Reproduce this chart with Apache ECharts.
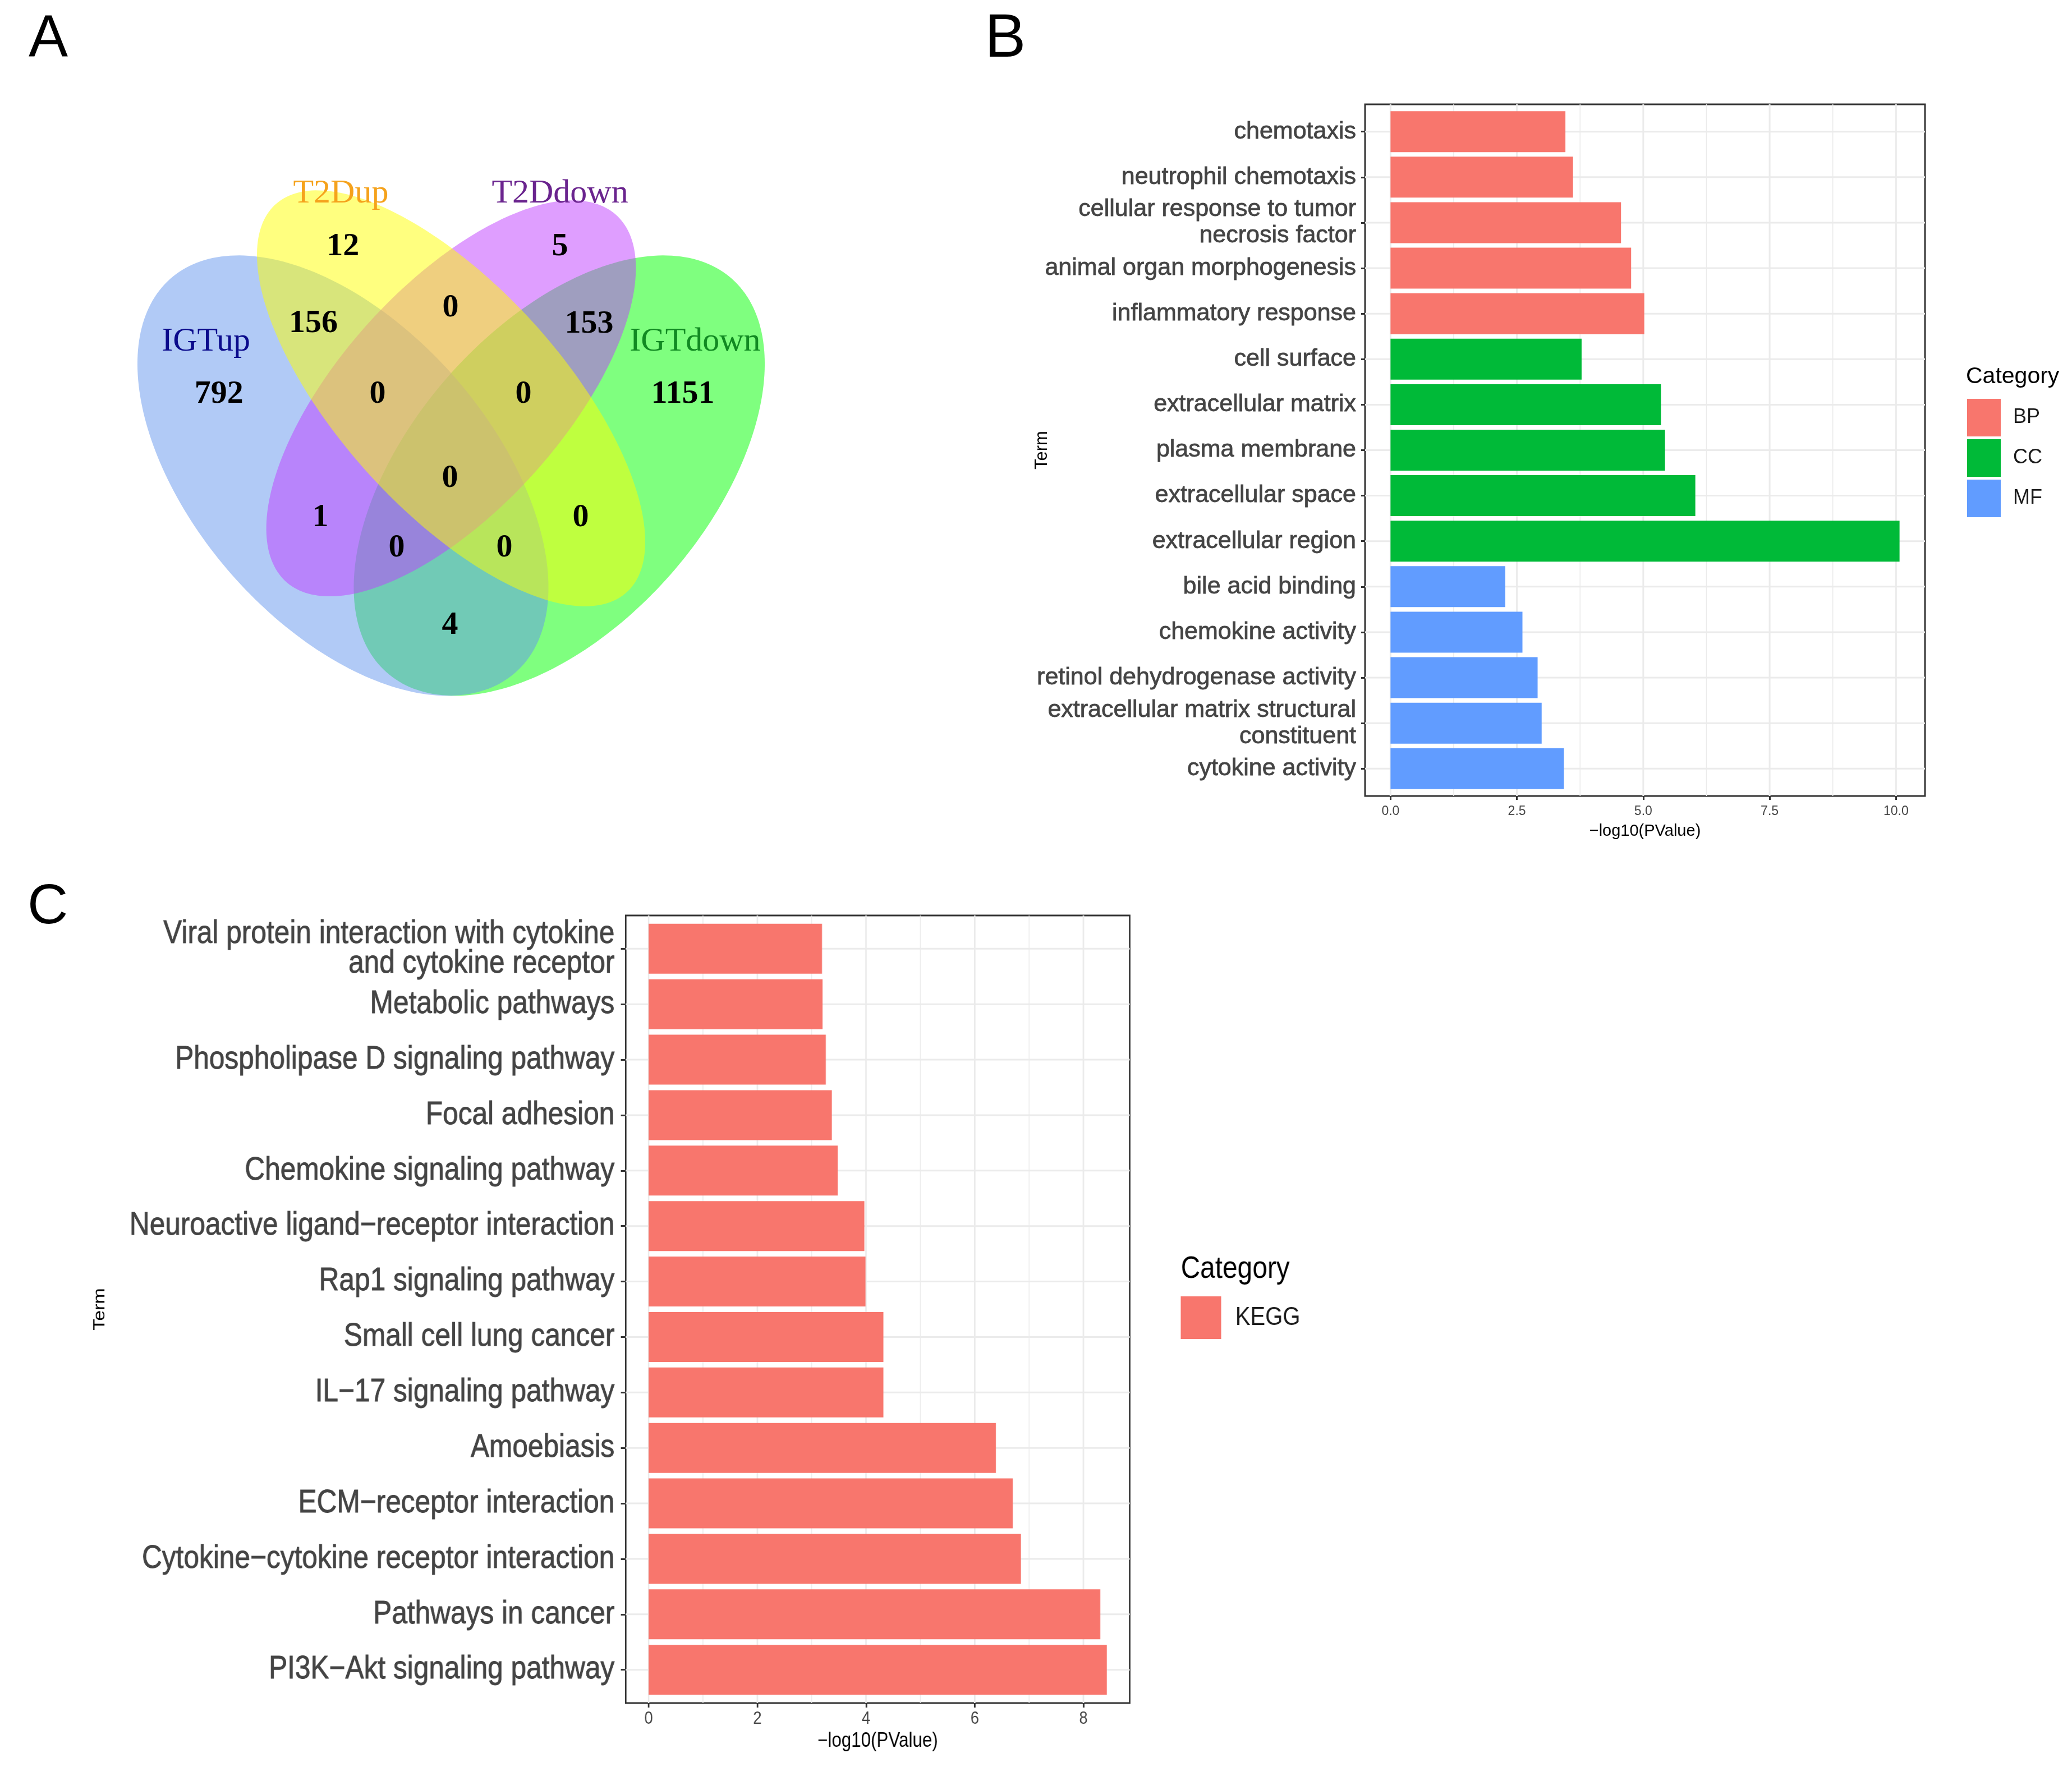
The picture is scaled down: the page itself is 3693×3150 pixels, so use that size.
<!DOCTYPE html>
<html>
<head>
<meta charset="utf-8">
<script src="https://cdn.jsdelivr.net/npm/echarts@6/dist/echarts.min.js"></script>
<style>
html,body{margin:0;padding:0;background:#fff;}
#page{position:relative;width:3693px;height:3150px;overflow:hidden;background:#fff;}
#chart{position:absolute;left:0;top:0;width:3693px;height:3150px;}
#chartC{position:absolute;left:0;top:1500px;height:1650px;transform-origin:0 0;}
</style>
</head>
<body>
<div id="page">
<div id="chart"></div>
<div id="chartC"></div>
</div>
<script>
// ================= DATA =================
// Panel A: Venn diagram
const vennSets = ['IGTup', 'T2Dup', 'T2Ddown', 'IGTdown'];
const vennRegions = [
  'IGTup', 'T2Dup', 'T2Ddown', 'IGTdown',
  'IGTup&T2Dup', 'T2Dup&T2Ddown', 'T2Ddown&IGTdown',
  'IGTup&T2Dup&T2Ddown', 'T2Dup&T2Ddown&IGTdown', 'IGTup&T2Dup&T2Ddown&IGTdown',
  'IGTup&T2Ddown', 'T2Dup&IGTdown',
  'IGTup&T2Ddown&IGTdown', 'IGTup&T2Dup&IGTdown', 'IGTup&IGTdown'
];
const vennCounts = [792, 12, 5, 1151, 156, 0, 153, 0, 0, 0, 1, 0, 0, 0, 4];

// Panel B: GO enrichment
const goTerms = [
  'chemotaxis', 'neutrophil chemotaxis', 'cellular response to tumor\nnecrosis factor',
  'animal organ morphogenesis', 'inflammatory response',
  'cell surface', 'extracellular matrix', 'plasma membrane', 'extracellular space', 'extracellular region',
  'bile acid binding', 'chemokine activity', 'retinol dehydrogenase activity',
  'extracellular matrix structural\nconstituent', 'cytokine activity'
];
const goCategory = ['BP', 'BP', 'BP', 'BP', 'BP', 'CC', 'CC', 'CC', 'CC', 'CC', 'MF', 'MF', 'MF', 'MF', 'MF'];
const goValues = [3.46, 3.61, 4.56, 4.76, 5.02, 3.78, 5.35, 5.43, 6.03, 10.07, 2.27, 2.61, 2.91, 2.99, 3.43];
const goCategories = ['BP', 'CC', 'MF'];
const goTicks = [0, 2.5, 5, 7.5, 10];

// Panel C: KEGG enrichment
const keggTerms = [
  'Viral protein interaction with cytokine\nand cytokine receptor', 'Metabolic pathways',
  'Phospholipase D signaling pathway', 'Focal adhesion', 'Chemokine signaling pathway',
  'Neuroactive ligand\u2212receptor interaction', 'Rap1 signaling pathway', 'Small cell lung cancer',
  'IL\u221217 signaling pathway', 'Amoebiasis', 'ECM\u2212receptor interaction',
  'Cytokine\u2212cytokine receptor interaction', 'Pathways in cancer', 'PI3K\u2212Akt signaling pathway'
];
const keggValues = [3.19, 3.20, 3.26, 3.37, 3.48, 3.97, 3.99, 4.32, 4.32, 6.39, 6.70, 6.85, 8.31, 8.43];
const keggCategories = ['KEGG'];
const keggTicks = [0, 2, 4, 6, 8];

// ================= STYLE / LAYOUT =================
const SANS = "'Liberation Sans', Arial, sans-serif";
const SERIF = "'Liberation Serif', 'Times New Roman', serif";
const catColors = { BP: '#F8766D', CC: '#00BA38', MF: '#619CFF', KEGG: '#F8766D' };
const GRIDLINE = '#EBEBEB';
const DARK = '#333333';
const AXTEXT = '#444444';

// Panel C is drawn in its own instance, horizontally condensed like the source figure
const SQUISH = 0.87;
const CW = 3693 / SQUISH;
const CTOP = 1500;
const sx = x => x / SQUISH;         // page x -> unsquished x in panel C
const sy = y => y - CTOP;           // page y -> panel C local y

// Venn geometry (unit square) and styling
const vennShape = {
  IGTup:   { cx: 0.35, cy: 0.47, a: 0.35, b: 0.20, rot: 135 },
  T2Dup:   { cx: 0.50, cy: 0.57, a: 0.35, b: 0.15, rot: 135 },
  T2Ddown: { cx: 0.50, cy: 0.57, a: 0.33, b: 0.15, rot: 45 },
  IGTdown: { cx: 0.65, cy: 0.47, a: 0.35, b: 0.20, rot: 45 }
};
const vennFill = {
  IGTup: 'rgba(100,149,237,0.5)', T2Dup: 'rgba(255,255,0,0.5)',
  T2Ddown: 'rgba(191,62,255,0.5)', IGTdown: 'rgba(0,255,0,0.5)'
};
const vennNameColor = { IGTup: '#0B0B8C', T2Dup: '#F5A21C', T2Ddown: '#6A248E', IGTdown: '#118A22' };
const vennNamePos = { IGTup: [0.160, 0.643], T2Dup: [0.347, 0.835], T2Ddown: [0.651, 0.835], IGTdown: [0.8385, 0.643] };
const vennDrawOrder = ['IGTdown', 'IGTup', 'T2Ddown', 'T2Dup'];
const vennCountPos = {
  'IGTup': [0.178, 0.5755], 'T2Dup': [0.350, 0.766], 'T2Ddown': [0.651, 0.766], 'IGTdown': [0.8214, 0.5752],
  'IGTup&T2Dup': [0.309, 0.6667], 'T2Dup&T2Ddown': [0.4992, 0.687], 'T2Ddown&IGTdown': [0.6914, 0.6659],
  'IGTup&T2Dup&T2Ddown': [0.3981, 0.5755], 'T2Dup&T2Ddown&IGTdown': [0.6004, 0.5752],
  'IGTup&T2Dup&T2Ddown&IGTdown': [0.4984, 0.4662],
  'IGTup&T2Ddown': [0.3187, 0.4154], 'T2Dup&IGTdown': [0.6798, 0.4154],
  'IGTup&T2Ddown&IGTdown': [0.4245, 0.3762], 'IGTup&T2Dup&IGTdown': [0.5739, 0.3762],
  'IGTup&IGTdown': [0.4984, 0.276]
};

// ggplot-like expansions
const goMax = Math.max(...goValues), keggMax = Math.max(...keggValues);
const bX = [-0.05 * goMax, goMax * 1.05];
const cX = [-0.05 * keggMax, keggMax * 1.05];
const bY = [-0.6, goTerms.length - 1 + 0.6];
const cY = [-0.6, keggTerms.length - 1 + 0.6];

// ================= RENDERERS =================
function ellipseRender(params, api) {
  const key = vennDrawOrder[params.dataIndex];
  const s = vennShape[key];
  const th = s.rot * Math.PI / 180, ct = Math.cos(th), st = Math.sin(th);
  const pts = [];
  for (let k = 0; k < 240; k++) {
    const t = k / 240 * Math.PI * 2;
    const ux = s.cx + s.a * Math.cos(t) * ct - s.b * Math.sin(t) * st;
    const uy = s.cy + s.a * Math.cos(t) * st + s.b * Math.sin(t) * ct;
    pts.push(api.coord([ux, uy]));
  }
  return { type: 'polygon', shape: { points: pts }, style: { fill: vennFill[key] } };
}

function panelGrid(xMin, xMax, yMin, yMax, ticks, nCats) {
  const minor = [];
  for (let k = 0; k < ticks.length - 1; k++) minor.push((ticks[k] + ticks[k + 1]) / 2);
  return function (params, api) {
    const ch = [];
    const L = (p, q, w) => ch.push({ type: 'line', shape: { x1: p[0], y1: p[1], x2: q[0], y2: q[1] }, style: { stroke: GRIDLINE, lineWidth: w } });
    minor.forEach(v => L(api.coord([v, yMin]), api.coord([v, yMax]), 1.6));
    ticks.forEach(v => L(api.coord([v, yMin]), api.coord([v, yMax]), 3));
    for (let i = 0; i < nCats; i++) L(api.coord([xMin, i]), api.coord([xMax, i]), 3);
    return { type: 'group', children: ch };
  };
}

function barRender(params, api) {
  const v = api.value(0), i = api.value(1);
  const p0 = api.coord([0, i]), p1 = api.coord([v, i]);
  const h = Math.abs(api.size([0, 0.9])[1]);
  return { type: 'rect', shape: { x: p0[0], y: p0[1] - h / 2, width: p1[0] - p0[0], height: h }, style: { fill: api.visual('color') } };
}

const tickStyle = { color: DARK, width: 3 };
const noLine = { show: false, onZero: false };

// ================= MAIN CHART (A + B) =================
const goIdx = goTerms.map((_, i) => i);
const mainSeries = [];
mainSeries.push({
  type: 'custom', name: 'venn', xAxisIndex: 0, yAxisIndex: 0, silent: true, z: 2,
  data: vennDrawOrder.map(s => ({ name: s, value: [vennShape[s].cx, vennShape[s].cy] })),
  renderItem: ellipseRender
});
mainSeries.push({
  type: 'custom', name: 'vennCounts', xAxisIndex: 0, yAxisIndex: 0, silent: true, z: 4,
  data: vennRegions.map((r, i) => ({ name: r, value: [vennCountPos[r][0], vennCountPos[r][1], vennCounts[i]] })),
  renderItem(params, api) {
    const p = api.coord([api.value(0), api.value(1)]);
    return { type: 'text', x: p[0], y: p[1], style: { text: String(api.value(2)), fill: '#000', fontFamily: SERIF, fontSize: 58, fontWeight: 'bold', align: 'center', verticalAlign: 'middle' } };
  }
});
mainSeries.push({
  type: 'custom', name: 'vennNames', xAxisIndex: 0, yAxisIndex: 0, silent: true, z: 4,
  data: vennSets.map(s => ({ name: s, value: [vennNamePos[s][0], vennNamePos[s][1]] })),
  renderItem(params, api) {
    const s = vennSets[params.dataIndex];
    const p = api.coord([api.value(0), api.value(1)]);
    return { type: 'text', x: p[0], y: p[1], style: { text: s, fill: vennNameColor[s], fontFamily: SERIF, fontSize: 60, align: 'center', verticalAlign: 'middle' } };
  }
});
mainSeries.push({ type: 'custom', name: 'bgrid', xAxisIndex: 1, yAxisIndex: 1, silent: true, z: 1, data: [[0, 0]],
  renderItem: panelGrid(bX[0], bX[1], bY[0], bY[1], goTicks, goTerms.length) });
goCategories.forEach(cat => {
  mainSeries.push({
    type: 'custom', name: cat, xAxisIndex: 1, yAxisIndex: 1, silent: true, z: 3,
    itemStyle: { color: catColors[cat] }, encode: { x: 0, y: 1 },
    data: goTerms.map((t, i) => [goValues[i], i]).filter((d, i) => goCategory[i] === cat),
    renderItem: barRender
  });
});

const mainOption = {
  animation: false,
  backgroundColor: '#ffffff',
  title: [
    { text: 'A', left: 51, top: 19, padding: 0, textStyle: { fontFamily: SANS, fontSize: 105, fontWeight: 'normal', color: '#000' } },
    { text: 'B', left: 1755, top: 16, padding: 0, textStyle: { fontFamily: SANS, fontSize: 110, fontWeight: 'normal', color: '#000' } },
    { text: 'C', left: 49, top: 1568, padding: 0, textStyle: { fontFamily: SANS, fontSize: 100, fontWeight: 'normal', color: '#000' } },
    { text: 'Category', left: 3504, top: 651, padding: 0, textStyle: { fontFamily: SANS, fontSize: 41, fontWeight: 'normal', color: '#000' } }
  ],
  legend: [
    { data: goCategories, orient: 'vertical', left: 3506, top: 711, itemWidth: 60, itemHeight: 67, itemGap: 5,
      icon: 'rect', padding: 0, selectedMode: false,
      textStyle: { fontFamily: SANS, fontSize: 36, color: '#1A1A1A', padding: [0, 0, 0, 17] } }
  ],
  grid: [
    { left: 161.5, top: 118, width: 1285, height: 1377, show: false, outerBoundsMode: 'none' },
    { left: 2433, top: 186, width: 998, height: 1233, show: true, borderColor: DARK, borderWidth: 3, backgroundColor: '#fff', outerBoundsMode: 'none' }
  ],
  xAxis: [
    { gridIndex: 0, type: 'value', min: 0, max: 1, show: false },
    { gridIndex: 1, type: 'value', min: bX[0], max: bX[1], position: 'bottom',
      axisLine: noLine, splitLine: { show: false },
      axisTick: { show: true, customValues: goTicks, length: 7, lineStyle: tickStyle },
      axisLabel: { show: true, customValues: goTicks, formatter: v => Number(v).toFixed(1), fontFamily: SANS, fontSize: 23, color: AXTEXT, margin: 16 },
      name: '\u2212log10(PValue)', nameLocation: 'middle', nameGap: 48, nameMoveOverlap: false,
      nameTextStyle: { fontFamily: SANS, fontSize: 29, color: '#000' } }
  ],
  yAxis: [
    { gridIndex: 0, type: 'value', min: 0, max: 1, show: false },
    { gridIndex: 1, type: 'value', inverse: true, min: bY[0], max: bY[1], position: 'left',
      axisLine: noLine, splitLine: { show: false },
      axisTick: { show: true, customValues: goIdx, length: 7, lineStyle: tickStyle },
      axisLabel: { show: true, customValues: goIdx, formatter: v => goTerms[Math.round(v)], fontFamily: SANS, fontSize: 43, lineHeight: 47,
        color: AXTEXT, textBorderColor: AXTEXT, textBorderWidth: 0.8, margin: 16, align: 'right' },
      name: 'Term', nameLocation: 'middle', nameGap: 560, nameRotate: 90, nameMoveOverlap: false,
      nameTextStyle: { fontFamily: SANS, fontSize: 31, color: '#000' } }
  ],
  series: mainSeries
};

// ================= PANEL C CHART =================
const keggIdx = keggTerms.map((_, i) => i);
const cSeries = [
  { type: 'custom', name: 'cgrid', silent: true, z: 1, data: [[0, 0]],
    renderItem: panelGrid(cX[0], cX[1], cY[0], cY[1], keggTicks, keggTerms.length) },
  { type: 'custom', name: 'KEGG', silent: true, z: 3,
    itemStyle: { color: catColors.KEGG }, encode: { x: 0, y: 1 },
    data: keggTerms.map((t, i) => [keggValues[i], i]),
    renderItem: barRender }
];
const cOption = {
  animation: false,
  backgroundColor: 'transparent',
  title: [
    { text: 'Category', left: sx(2104), top: sy(2235), padding: 0, textStyle: { fontFamily: SANS, fontSize: 55, fontWeight: 'normal', color: '#000' } }
  ],
  legend: [
    { data: keggCategories, orient: 'vertical', left: sx(2104), top: sy(2311), itemWidth: 72 / SQUISH, itemHeight: 76, itemGap: 5,
      icon: 'rect', padding: 0, selectedMode: false,
      textStyle: { fontFamily: SANS, fontSize: 46, color: '#1A1A1A', padding: [0, 0, 0, 24] } }
  ],
  grid: [
    { left: sx(1115), top: sy(1632), width: 898 / SQUISH, height: 1404, show: true, borderColor: DARK, borderWidth: 3.2, backgroundColor: '#fff', outerBoundsMode: 'none' }
  ],
  xAxis: [
    { type: 'value', min: cX[0], max: cX[1], position: 'bottom',
      axisLine: noLine, splitLine: { show: false },
      axisTick: { show: true, customValues: keggTicks, length: 8, lineStyle: { color: DARK, width: 3.3 } },
      axisLabel: { show: true, customValues: keggTicks, formatter: v => String(Math.round(v)), fontFamily: SANS, fontSize: 31.4, color: AXTEXT, margin: 13 },
      name: '\u2212log10(PValue)', nameLocation: 'middle', nameGap: 50, nameMoveOverlap: false,
      nameTextStyle: { fontFamily: SANS, fontSize: 36, color: '#000' } }
  ],
  yAxis: [
    { type: 'value', inverse: true, min: cY[0], max: cY[1], position: 'left',
      axisLine: noLine, splitLine: { show: false },
      axisTick: { show: true, customValues: keggIdx, length: 10, lineStyle: tickStyle },
      axisLabel: { show: true, customValues: keggIdx, formatter: v => keggTerms[Math.round(v)], fontFamily: SANS, fontSize: 57, lineHeight: 53,
        color: AXTEXT, textBorderColor: AXTEXT, textBorderWidth: 0.9, margin: 23, align: 'right' },
      name: 'Term', nameLocation: 'middle', nameGap: sx(1115) - sx(178) - 17, nameRotate: 90, nameMoveOverlap: false,
      nameTextStyle: { fontFamily: SANS, fontSize: 34, color: '#000' } }
  ],
  series: cSeries
};

const elC = document.getElementById('chartC');
elC.style.width = CW + 'px';
elC.style.transform = 'scaleX(' + SQUISH + ')';

const chart = echarts.init(document.getElementById('chart'), null, { renderer: 'canvas', width: 3693, height: 3150 });
chart.setOption(mainOption);
const chartC = echarts.init(elC, null, { renderer: 'canvas', width: CW, height: 1650 });
chartC.setOption(cOption);
</script>
</body>
</html>
